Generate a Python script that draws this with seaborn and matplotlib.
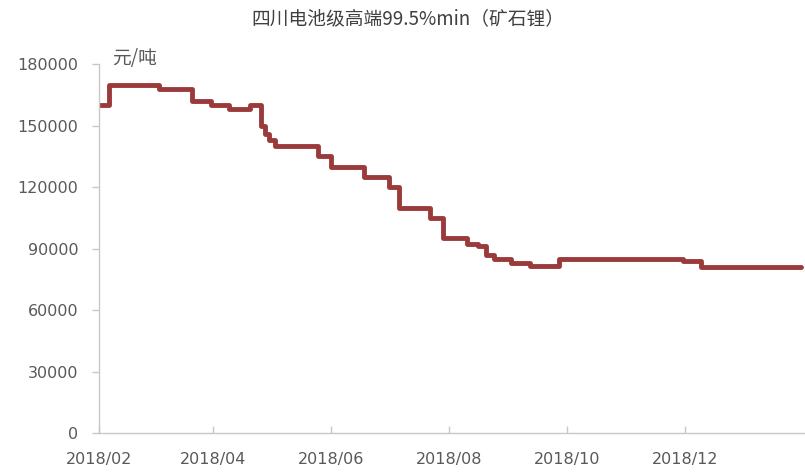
import pandas as pd
import numpy as np
import matplotlib
matplotlib.use('Agg')
import matplotlib.pyplot as plt
import matplotlib.dates as mdates
import seaborn as sns

# price steps (date of change, yuan/ton)
dates = ['2018-02-01', '2018-02-06', '2018-03-04', '2018-03-21', '2018-03-31',
         '2018-04-09', '2018-04-20', '2018-04-26', '2018-04-28', '2018-04-30',
         '2018-05-03', '2018-05-25', '2018-06-01', '2018-06-18', '2018-07-01',
         '2018-07-06', '2018-07-22', '2018-07-29', '2018-08-10', '2018-08-16',
         '2018-08-20', '2018-08-24', '2018-09-02', '2018-09-12', '2018-09-27',
         '2018-11-30', '2018-12-09', '2019-01-30']
prices = [160000, 170000, 168000, 162000, 160000,
          158000, 160000, 150000, 146000, 143000,
          140000, 135000, 130000, 125000, 120000,
          110000, 105000, 95000, 92000, 91000,
          87000, 85000, 83000, 81500, 85000,
          84000, 81000, 81000]
y_ticks = [0, 30000, 60000, 90000, 120000, 150000, 180000]
x_ticks = ['2018-02-01', '2018-04-01', '2018-06-01', '2018-08-01', '2018-10-01', '2018-12-01']

df = pd.DataFrame({'date': pd.to_datetime(dates), 'price': prices})

sns.set_style('white')
plt.rcParams['font.family'] = ['DejaVu Sans', 'Noto Sans CJK SC']
cjk = ['Noto Sans CJK SC', 'DejaVu Sans']

fig = plt.figure(figsize=(8.05, 4.76), dpi=100)
ax = fig.add_axes([0.123, 0.0903, 0.877, 0.7752])

sns.lineplot(data=df, x='date', y='price', ax=ax, color='#9b3a3a', linewidth=3.5,
             drawstyle='steps-post')

ax.set_ylim(0, 180000)
ax.set_xlim(pd.Timestamp('2018-02-01'), pd.Timestamp('2019-02-01'))
ax.set_yticks(y_ticks)
ax.set_yticklabels([str(v) for v in y_ticks])
ax.set_xticks(pd.to_datetime(x_ticks))
ax.xaxis.set_major_formatter(mdates.DateFormatter('%Y/%m'))
ax.set_xlabel('')
ax.set_ylabel('')

for s in ['top', 'right']:
    ax.spines[s].set_visible(False)
for s in ['left', 'bottom']:
    ax.spines[s].set_color('#c8c8c8')
    ax.spines[s].set_linewidth(1)

ax.tick_params(axis='y', direction='out', length=5, width=1, color='#c8c8c8',
               labelsize=11.5, labelcolor='#595959', pad=10, left=True)
ax.tick_params(axis='x', direction='in', length=5, width=1, color='#c8c8c8',
               labelsize=11.5, labelcolor='#595959', pad=14, bottom=True)

fig.text(0.139, 0.878, '元/吨', fontsize=13.5, color='#595959', family=cjk,
         ha='left', va='center')
fig.text(0.507, 0.96, '四川电池级高端99.5%min（矿石锂）', fontsize=13.5, color='#404040',
         family=cjk, ha='center', va='center')

fig.savefig('out.png', dpi=100)
